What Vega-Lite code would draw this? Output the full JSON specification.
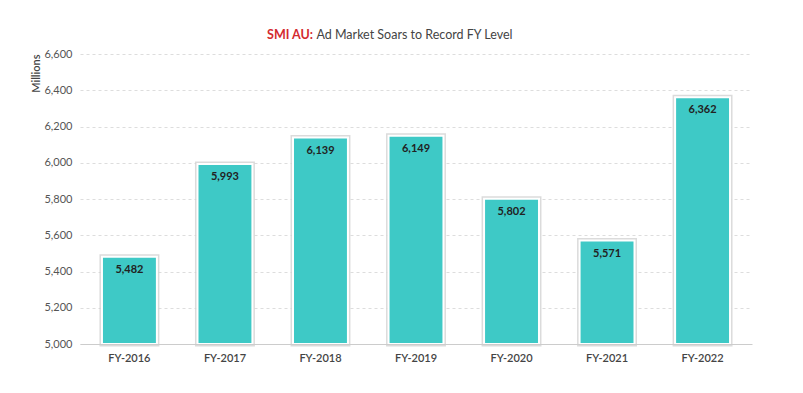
{
  "$schema": "https://vega.github.io/schema/vega-lite/v6.json",
  "autosize": {"type": "none"},
  "padding": {"left": 80, "top": 54, "right": 51, "bottom": 49},
  "width": 672,
  "height": 290,
  "background": "white",
  "config": {
    "font": "Lato",
    "view": {"stroke": null}
  },
  "title": {
    "text": "SMI AU:",
    "color": "#d42a2f",
    "font": "Lato",
    "fontSize": 12.5,
    "fontWeight": "bold",
    "anchor": "middle",
    "frame": "group",
    "dx": -126,
    "dy": 23,
    "baseline": "alphabetic",
    "offset": 0
  },
  "data": {
    "values": [
      {"year": "FY-2016", "value": 5482},
      {"year": "FY-2017", "value": 5993},
      {"year": "FY-2018", "value": 6139},
      {"year": "FY-2019", "value": 6149},
      {"year": "FY-2020", "value": 5802},
      {"year": "FY-2021", "value": 5571},
      {"year": "FY-2022", "value": 6362}
    ]
  },
  "encoding": {
    "x": {
      "field": "year",
      "type": "nominal",
      "sort": null,
      "scale": {"paddingInner": 0.425, "paddingOuter": 0.23}
    },
    "y": {
      "field": "value",
      "type": "quantitative",
      "scale": {"domain": [5000, 6600], "nice": false, "zero": false},
      "axis": {
        "values": [5000, 5200, 5400, 5600, 5800, 6000, 6200, 6400, 6600],
        "format": ",d",
        "title": "Millions",
        "titleFontSize": 11,
        "titleFontWeight": 600,
        "titleColor": "#444",
        "titleAnchor": "end",
        "titlePadding": 2,
        "labelFontSize": 11,
        "labelColor": "#555",
        "labelPadding": 8,
        "ticks": false,
        "domain": false,
        "grid": true,
        "gridColor": "#dddddd",
        "gridDash": [3, 3]
      }
    }
  },
  "layer": [
    {
      "mark": {"type": "bar", "fill": "#3ec9c6", "stroke": "#d2d2d2", "strokeWidth": 5, "strokeOpacity": 0.8},
      "encoding": {
        "y2": {"datum": 5000},
        "x": {
          "field": "year", "type": "nominal", "sort": null,
          "axis": {
            "title": null,
            "labelAngle": 0,
            "labelFontSize": 11,
            "labelColor": "#444",
            "labelFontWeight": 600,
            "labelPadding": 8,
            "ticks": false,
            "domain": true,
            "domainColor": "#cccccc",
            "grid": false,
            "zindex": 1
          }
        }
      }
    },
    {
      "mark": {"type": "bar", "fill": "#3ec9c6", "stroke": "white", "strokeWidth": 2},
      "encoding": {
        "y2": {"datum": 5000},
        "x": {"field": "year", "type": "nominal", "sort": null, "axis": null}
      }
    },
    {
      "mark": {"type": "text", "baseline": "top", "dy": 7, "fontSize": 11, "fontWeight": "bold", "color": "#222"},
      "encoding": {
        "x": {
          "field": "year", "type": "nominal", "sort": null,
          "axis": {
            "orient": "top",
            "labels": false,
            "ticks": false,
            "domain": false,
            "grid": false,
            "title": "Ad Market Soars to Record FY Level",
            "titleFontSize": 12.5,
            "titleFontWeight": "normal",
            "titleColor": "#444",
            "titlePadding": 13,
            "titleX": 334,
            "titleAlign": "center"
          }
        },
        "text": {"field": "value", "type": "quantitative", "format": ",d"}
      }
    }
  ],
  "resolve": {"axis": {"x": "independent"}}
}
